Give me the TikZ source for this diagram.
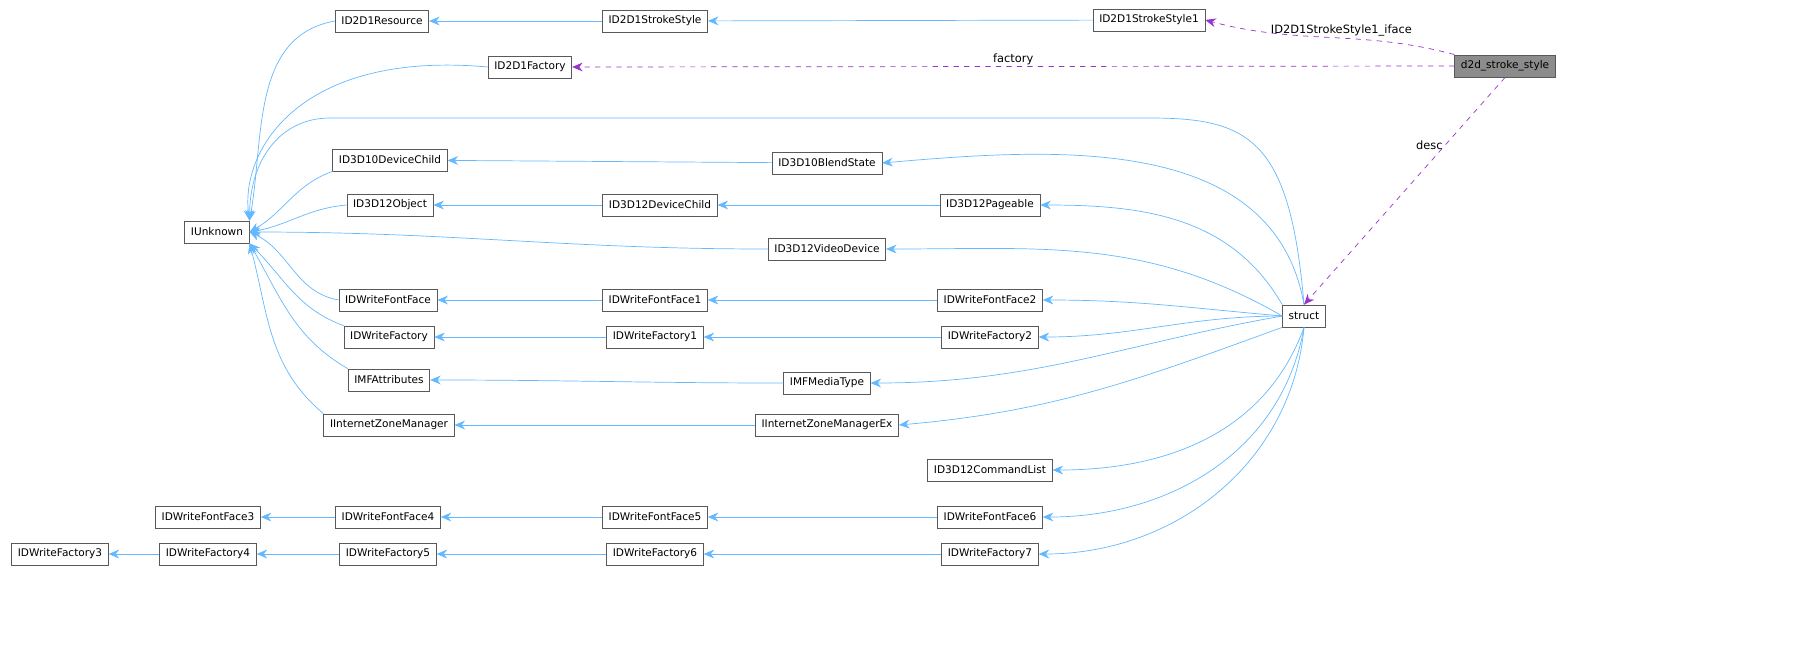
\documentclass[tikz,border=0pt]{standalone}
\usepackage{fontspec}
\setmainfont{DejaVu Sans}
\usetikzlibrary{arrows.meta}
\definecolor{edgeblue}{HTML}{63B8FF}
\definecolor{edgepurple}{HTML}{9A32CD}
\begin{document}
\begin{tikzpicture}[
    x=0.02cm, y=-0.02cm,
    cls/.style={draw=black!65, fill=white, minimum height=0.44cm, inner xsep=3.5pt, font=\fontsize{6pt}{7pt}\selectfont},
    cur/.style={cls, fill=black!45},
    base/.style={draw=edgeblue, -{Stealth[length=6pt,width=5pt,fill=edgeblue]}},
    use/.style={draw=edgepurple, dashed, -{Stealth[length=6pt,width=5pt,fill=edgepurple]}},
    lbl/.style={font=\fontsize{6.5pt}{7pt}\selectfont, inner sep=1pt}
]
% Interfaces, column by column
\node[cls] (unk) at (217,232) {IUnknown};
\node[cls] (res) at (382,21) {ID2D1Resource};
\node[cls] (fac) at (530,67) {ID2D1Factory};
\node[cls] (d10child) at (390,160) {ID3D10DeviceChild};
\node[cls] (d12obj) at (390,205) {ID3D12Object};
\node[cls] (ff) at (388,300) {IDWriteFontFace};
\node[cls] (wf) at (389,337) {IDWriteFactory};
\node[cls] (mfa) at (389,380) {IMFAttributes};
\node[cls] (izm) at (389,425) {IInternetZoneManager};
\node[cls] (ff3) at (208,517) {IDWriteFontFace3};
\node[cls] (ff4) at (388,517) {IDWriteFontFace4};
\node[cls] (wf3) at (60,554) {IDWriteFactory3};
\node[cls] (wf4) at (208,554) {IDWriteFactory4};
\node[cls] (wf5) at (388,554) {IDWriteFactory5};

\node[cls] (ss) at (655,21) {ID2D1StrokeStyle};
\node[cls] (d12child) at (660,205) {ID3D12DeviceChild};
\node[cls] (ff1) at (655,300) {IDWriteFontFace1};
\node[cls] (wf1) at (655,337) {IDWriteFactory1};
\node[cls] (ff5) at (655,517) {IDWriteFontFace5};
\node[cls] (wf6) at (655,554) {IDWriteFactory6};

\node[cls] (blend) at (827,163) {ID3D10BlendState};
\node[cls] (video) at (827,249) {ID3D12VideoDevice};
\node[cls] (mfmt) at (827,383) {IMFMediaType};
\node[cls] (izmex) at (827,425) {IInternetZoneManagerEx};

\node[cls] (page) at (990,205) {ID3D12Pageable};
\node[cls] (ff2) at (990,300) {IDWriteFontFace2};
\node[cls] (wf2) at (990,337) {IDWriteFactory2};
\node[cls] (cmd) at (990,470) {ID3D12CommandList};
\node[cls] (ff6) at (990,517) {IDWriteFontFace6};
\node[cls] (wf7) at (990,554) {IDWriteFactory7};

\node[cls] (ss1) at (1149,20) {ID2D1StrokeStyle1};
\node[cls] (st) at (1304,316) {struct};
\node[cur] (d2d) at (1505,66) {d2d\_stroke\_style};

% Inheritance into IUnknown
\draw[base] (res.west) to[out=190,in=80] (unk.north east);
\draw[base] (fac.west) .. controls (300,50) and (240,150) .. (unk.north east);
\draw[base] (d10child.south west) to[out=200,in=30] (unk.east);
\draw[base] (d12obj.west) to[out=185,in=10] (unk.east);
\draw[base] (video.west) to[out=180,in=0] (unk.east);
\draw[base] (ff.west) to[out=170,in=-25] (unk.east);
\draw[base] (wf.north west) to[out=160,in=-45] (unk.south east);
\draw[base] (mfa.north west) to[out=150,in=-60] (unk.south east);
\draw[base] (izm.north west) to[out=140,in=-75] (unk.south east);
\draw[base] (st.north) .. controls (1290,140) and (1250,118) .. (1150,118)
    -- (330,118) .. controls (280,118) and (250,160) .. (unk.north east);

% Chains
\draw[base] (ss) -- (res);
\draw[base] (ss1) -- (ss);
\draw[base] (blend) -- (d10child);
\draw[base] (d12child) -- (d12obj);
\draw[base] (page) -- (d12child);
\draw[base] (ff1) -- (ff);
\draw[base] (ff2) -- (ff1);
\draw[base] (wf1) -- (wf);
\draw[base] (wf2) -- (wf1);
\draw[base] (mfmt.west) to[out=180,in=0] (mfa.east);
\draw[base] (izmex) -- (izm);
\draw[base] (ff4) -- (ff3);
\draw[base] (ff5) -- (ff4);
\draw[base] (ff6) -- (ff5);
\draw[base] (wf4) -- (wf3);
\draw[base] (wf5) -- (wf4);
\draw[base] (wf6) -- (wf5);
\draw[base] (wf7) -- (wf6);

% Inheritance from struct
\draw[base] (st.north) to[out=100,in=5] (blend.east);
\draw[base] (st.north west) to[out=120,in=0] (page.east);
\draw[base] (st.west) to[out=150,in=0] (video.east);
\draw[base] (st.west) to[out=175,in=0] (ff2.east);
\draw[base] (st.west) to[out=180,in=0] (wf2.east);
\draw[base] (st.west) to[out=190,in=0] (mfmt.east);
\draw[base] (st.south west) to[out=200,in=5] (izmex.east);
\draw[base] (st.south) to[out=250,in=0] (cmd.east);
\draw[base] (st.south) to[out=260,in=0] (ff6.east);
\draw[base] (st.south) to[out=265,in=0] (wf7.east);

% Members of d2d_stroke_style
\draw[use] (d2d.north west) to[out=165,in=-15] node[lbl, pos=0.45, above] {ID2D1StrokeStyle1\_iface} (ss1.east);
\draw[use] (d2d.west) -- node[lbl, above] {factory} (fac.east);
\draw[use] (d2d.south) -- node[lbl, pos=0.3, left] {desc} (st.north);

\pgfresetboundingbox
\useasboundingbox (0,0) rectangle (1807,657);
\end{tikzpicture}
\end{document}
